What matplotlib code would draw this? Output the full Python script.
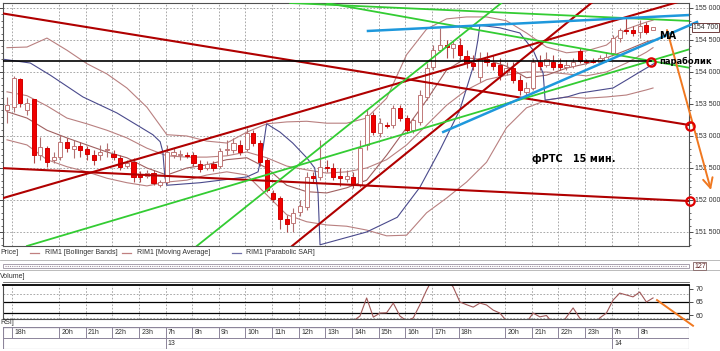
import matplotlib
matplotlib.use("Agg")
import matplotlib.pyplot as plt
from matplotlib.lines import Line2D
from matplotlib.patches import Rectangle
from matplotlib.ticker import FixedLocator, FuncFormatter

plt.rcParams['font.family'] = ['Liberation Sans Narrow', 'Liberation Sans', 'DejaVu Sans']

# RIM1 15 min candles, bar index 0..97
opens = [153410, 153450, 153890, 153410, 153580, 152700, 152810, 152630, 152670, 152910,
         152800, 152840, 152800, 152700, 152700, 152780, 152720, 152660, 152530, 152590,
         152410, 152380, 152420, 152230, 152280, 152700, 152700, 152700, 152700, 152560,
         152500, 152560, 152530, 152780, 152780, 152860, 152800, 153050, 152890, 152630,
         152110, 152030, 151700, 151640, 151810, 151890, 152380, 152360, 152520, 152500,
         152380, 152330, 152360, 152230, 152860, 153330, 153050, 153170, 153170, 153440,
         153280, 153090, 153220, 153610, 154080, 154340, 154420, 154380, 154420, 154250,
         154140, 153920, 154200, 154140, 154110, 154000, 154060, 153880, 153690, 153750,
         154160, 154110, 154160, 154130, 154080, 154090, 154330, 154170, 154170, 154160,
         154190, 154300, 154530, 154660, 154660, 154630, 154730, 154660]
highs = [153610, 153940, 153910, 153590, 153580, 152980, 152840, 152750, 153020, 152970,
         152940, 152910, 152840, 152780, 152860, 152890, 152780, 152700, 152630, 152660,
         152450, 152470, 152470, 152310, 152860, 152810, 152780, 152750, 152750, 152630,
         152610, 152610, 152810, 152940, 152970, 152940, 153130, 153090, 152940, 152660,
         152160, 152060, 151770, 151880, 152000, 152440, 152440, 152940, 152630, 152580,
         152500, 152470, 152440, 152940, 153410, 153380, 153280, 153220, 153480, 153480,
         153330, 153280, 153720, 154140, 154420, 154690, 154500, 154500, 154530, 154340,
         154270, 154310, 154310, 154270, 154220, 154160, 154160, 153950, 153840, 154220,
         154270, 154310, 154270, 154220, 154190, 154220, 154380, 154200, 154220, 154270,
         154310, 154580, 154690, 154840, 154720, 154810, 154780, 154700]
lows = [153200, 153380, 153450, 153330, 152580, 152630, 152520, 152580, 152630, 152750,
        152660, 152670, 152630, 152550, 152630, 152670, 152630, 152470, 152500, 152280,
        152280, 152340, 152230, 152200, 152250, 152660, 152630, 152660, 152530, 152440,
        152470, 152450, 152500, 152700, 152730, 152700, 152770, 152840, 152530, 152130,
        151970, 151550, 151500, 151500, 151750, 151840, 152280, 152310, 152440, 152310,
        152220, 152280, 152190, 152200, 152780, 153020, 152980, 153130, 153130, 153230,
        153050, 153050, 153170, 153560, 154030, 154310, 154220, 154220, 154190, 154060,
        154030, 153840, 154090, 154030, 153880, 153950, 153830, 153640, 153640, 153720,
        154030, 154080, 154030, 154030, 154030, 154060, 154140, 154130, 154140, 154130,
        154160, 154270, 154470, 154590, 154560, 154530, 154590, 154660]
closes = [153480, 153910, 153520, 153520, 152700, 152830, 152590, 152670, 152910, 152810,
          152840, 152780, 152720, 152630, 152750, 152800, 152670, 152520, 152580, 152360,
          152360, 152420, 152270, 152280, 152750, 152750, 152710, 152690, 152580, 152480,
          152560, 152500, 152770, 152790, 152890, 152750, 153050, 152890, 152590, 152160,
          152020, 151700, 151630, 151800, 151910, 152360, 152340, 152520, 152500, 152360,
          152340, 152380, 152230, 152810, 153330, 153060, 153200, 153160, 153440, 153280,
          153090, 153250, 153640, 154060, 154340, 154420, 154390, 154440, 154270, 154140,
          154090, 154220, 154160, 154090, 153950, 154060, 153880, 153720, 153750, 154160,
          154090, 154200, 154080, 154080, 154110, 154160, 154170, 154160, 154160, 154220,
          154230, 154530, 154660, 154640, 154610, 154720, 154630, 154700]

# indicators, read every 3 bars
ind_x = [0, 3, 6, 9, 12, 15, 18, 21, 24, 27, 30, 33, 36, 39, 42, 45, 48, 51, 54, 57,
         60, 63, 66, 69, 72, 75, 78, 81, 84, 87, 90, 93, 96, 97]
bb_upper = [154380, 154390, 154530, 154340, 154130, 153970, 153750, 153450, 153020, 153000,
            152920, 152890, 153060, 153190, 153220, 153230, 153200, 153200, 153280, 153590,
            154270, 154670, 154830, 154860, 154860, 154800, 154610, 154390, 154300, 154330,
            154420, 154670, 154780, 154810]
bb_middle = [153690, 153630, 153470, 153280, 153190, 153090, 152970, 152810, 152690, 152670,
             152670, 152690, 152750, 152660, 152530, 152470, 152420, 152440, 152500, 152630,
             152860, 153170, 153480, 153720, 153880, 153950, 154000, 154000, 153970, 153940,
             154000, 154140, 154310, 154380]
bb_lower = [152940, 152860, 152630, 152520, 152440, 152340, 152270, 152220, 152280, 152310,
            152390, 152440, 152390, 152080, 151770, 151660, 151610, 151590, 151530, 151440,
            151450, 151800, 152030, 152280, 152590, 153130, 153440, 153560, 153610, 153590,
            153610, 153640, 153720, 153750]
ma_line = [153380, 153280, 153090, 152970, 152860, 152750, 152660, 152500, 152390, 152500,
           152550, 152630, 152660, 152500, 152230, 152130, 152110, 152190, 152310, 152700,
           153130, 153560, 154030, 154220, 154190, 154090, 153910, 153950, 154060, 154130,
           154220, 154340, 154470, 154500]

sar_x = [-0.6, 3.5, 6.5, 11.4, 16.5, 20.0, 21.9, 23.0, 23.4, 23.7, 24.0, 29.0, 36.0, 37.7,
         38.4, 38.9, 39.0, 41.0, 42.9, 45.0, 46.2, 46.7, 47.0, 54.0, 58.6, 62.0, 65.0, 68.0,
         70.0, 70.7, 71.0, 74.0, 77.0, 79.0, 80.5, 80.8, 84.1, 86.0, 91.0, 93.1, 95.0, 97.3]
sar_y = [154200, 154140, 153950, 153610, 153360, 153140, 153020, 152910, 152750, 152360,
         152230, 152270, 152360, 152440, 152780, 153140, 153190, 153060, 152890, 152660,
         152500, 152110, 151300, 151500, 151730, 152200, 152780, 153410, 154080, 154500,
         154730, 154690, 154610, 154340, 153980, 153560, 153610, 153670, 153750, 153880,
         154000, 154140]

rsi_x = list(range(50, 98))
rsi_y = [56, 57, 58, 59.8, 66.5, 59.4, 60.9, 61, 64.6, 59.8, 58, 59.1, 64, 69.4, 74, 76,
         74, 70.5, 65, 64, 63.1, 64.6, 63.9, 62, 60.9, 58, 56, 56, 57.5, 60.9, 59.5, 60.0,
         57, 56, 59.4, 62.8, 59.0, 57, 56, 59.1, 60.9, 65.7, 68.3, 67.6, 66.9, 68.7, 65.0, 66.5]

hour_ticks = [0.8, 7.8, 11.8, 15.8, 19.8, 23.8, 27.8, 31.8, 35.8, 39.8, 43.8, 47.8, 51.8,
              55.8, 59.8, 63.8, 67.8, 74.8, 78.8, 82.8, 86.8, 90.8, 94.8]
hour_labels = ['18h', '20h', '21h', '22h', '23h', '7h', '8h', '9h', '10h', '11h', '12h', '13h',
               '14h', '15h', '16h', '17h', '18h', '20h', '21h', '22h', '23h', '7h', '8h']
day_ticks = [23.8, 90.8]
day_labels = ['13', '14']
price_ticks = [151500, 152000, 152500, 153000, 153500, 154000, 154500, 155000]
last_price = 154700

# hand drawn lines (x0, price0, x1, price1)
red_lines = [(-1.05, 154922, 102.4, 153172), (-1.05, 152500, 102.4, 151984),
             (-1.05, 152016, 101.8, 155125), (42.8, 151281, 88.3, 155125)]
green_lines = [(42.5, 155078, 102.6, 154797), (48.0, 155078, 102.6, 154063),
               (28.5, 151281, 74.8, 155125), (3.0, 151281, 102.6, 154359)]
blue_lines = [(54.2, 154641, 102.6, 154891), (65.5, 153063, 103.6, 154781)]
level_line = (-1.05, 96.7, 154172)
circle_x = [96.7, 102.6, 102.6]
circle_y = [154156, 153156, 151984]
arrow_main = (99.1, 154656, 105.7, 152156)
arrow_rsi = (97.6, 65.7, 103.0, 56.2)

W, H = 720, 351
def fx(x):
    return x / W
def fy(y):
    return 1 - y / H

fig = plt.figure(figsize=(7.2, 3.51), dpi=100)
fig.patch.set_facecolor('white')

grid_kw = dict(color='#9a9a9a', lw=0.6, ls=(0, (2, 2)))
frame = '#505050'
small = 5

# ---- price panel
ax = fig.add_axes([fx(3), fy(246), (689 - 3) / W, (246 - 3) / H])
ax.set_xlim(-0.6, 102.4)
ax.set_ylim(151281, 155078)
for t in hour_ticks:
    ax.axvline(t, zorder=0, **grid_kw)
for p in price_ticks:
    ax.axhline(p, zorder=0, **grid_kw)

ax.plot(ind_x, bb_upper, color='#b98080', lw=0.8, zorder=2)
ax.plot(ind_x, bb_middle, color='#b98080', lw=0.8, zorder=2)
ax.plot(ind_x, bb_lower, color='#b98080', lw=0.8, zorder=2)
ax.plot(ind_x, ma_line, color='#a06060', lw=0.8, zorder=2)
ax.plot(sar_x, sar_y, color='#4a4a8c', lw=0.8, zorder=2)

idx = list(range(len(opens)))
up = [c >= o for o, c in zip(opens, closes)]
ax.vlines(idx, lows, highs, colors=['#b07070' if u else '#b04848' for u in up], lw=0.8, zorder=3)
bottoms = [min(o, c) for o, c in zip(opens, closes)]
heights = [max(abs(c - o), 14) for o, c in zip(opens, closes)]
ax.bar(idx, heights, bottom=bottoms, width=0.62,
       color=['white' if u else '#f00000' for u in up],
       edgecolor=['#c07878' if u else '#d00000' for u in up], lw=0.7, zorder=4)

for x0, p0, x1, p1 in red_lines:
    ax.plot([x0, x1], [p0, p1], color='#b00000', lw=1.5, zorder=5)
for x0, p0, x1, p1 in green_lines:
    ax.plot([x0, x1], [p0, p1], color='#33cc33', lw=1.3, zorder=5)
ax.plot([level_line[0], level_line[1]], [level_line[2]] * 2, color='black', lw=1.2, zorder=5)
x0, p0, x1, p1 = blue_lines[0]
ax.plot([x0, x1], [p0, p1], color='#1e98dc', lw=1.8, zorder=6)
x0, p0, x1, p1 = blue_lines[1]
ax.plot([x0, x1], [p0, p1], color='#1e98dc', lw=1.8, zorder=6, clip_on=False)

ax.annotate('', xy=(arrow_main[2], arrow_main[3]), xytext=(arrow_main[0], arrow_main[1]),
            arrowprops=dict(arrowstyle='->,head_length=0.7,head_width=0.35', color='#f07820',
                            lw=1.4, shrinkA=0, shrinkB=0),
            annotation_clip=False, zorder=7)
ax.plot(circle_x, circle_y, 'o', ms=6, mfc='none', mec='#e00000', mew=1.6,
        clip_on=False, zorder=8)

ax.text(97.9, 154560, 'MA', fontsize=7, fontweight='bold', family='DejaVu Sans',
        va='center', zorder=9, clip_on=False)
ax.text(98.0, 154170, 'параболик', fontsize=6, fontweight='bold', family='DejaVu Sans',
        va='center', zorder=9, clip_on=False)
ax.text(78.8, 152640, 'фРТС   15 мин.', fontsize=7, fontweight='bold', family='DejaVu Sans',
        va='center', zorder=9)
ax.text(103.0, last_price, '154 700', fontsize=small, va='center', ha='left', clip_on=False,
        color='#303030', zorder=9,
        bbox=dict(boxstyle='square,pad=0.12', fc='white', ec='#704040', lw=0.7))

ax.yaxis.set_major_locator(FixedLocator(price_ticks))
ax.yaxis.set_minor_locator(FixedLocator(list(range(151300, 155100, 100))))
ax.yaxis.set_major_formatter(FuncFormatter(lambda v, pos: f"{int(v):,}".replace(',', ' ')))
ax.tick_params(axis='y', which='both', left=True, right=True, labelleft=False, labelright=True,
               labelsize=small, pad=1.5, colors='#303030', direction='out')
ax.tick_params(axis='y', which='major', length=3, width=0.6)
ax.tick_params(axis='y', which='minor', length=1.5, width=0.5)
ax.set_xticks([])
for s in ax.spines.values():
    s.set_color(frame)
    s.set_linewidth(0.8)

# ---- legend row, scroll bar and captions
fig.text(fx(0), fy(253), 'Price]', fontsize=small, va='center', color='#303030')
legend_items = [(30, 45, '#c08080', 'RIM1 [Bollinger Bands]'),
                (122, 137, '#c08080', 'RIM1 [Moving Average]'),
                (232, 246, '#7070a8', 'RIM1 [Parabolic SAR]')]
for lx, tx, col, name in legend_items:
    fig.add_artist(Line2D([fx(lx), fx(lx + 9)], [fy(253)] * 2, color=col, lw=0.9))
    fig.text(fx(tx), fy(253), name, fontsize=small, va='center', color='#303030')
fig.add_artist(Line2D([0, fx(720)], [fy(260)] * 2, color='#b0b0b0', lw=0.6))
fig.add_artist(Rectangle((fx(3), fy(268)), fx(686), 4 / H, fill=False, ec='#9a90a0', lw=0.6))
fig.add_artist(Line2D([fx(5), fx(687)], [fy(266)] * 2, color='#a090a0', lw=0.8, ls=(0, (1, 1))))
fig.text(fx(694), fy(266), '127', fontsize=small, va='center', color='#602020',
         bbox=dict(boxstyle='square,pad=0.1', fc='white', ec='#806060', lw=0.6))
fig.add_artist(Line2D([0, fx(720)], [fy(270)] * 2, color='#b0b0b0', lw=0.6))
fig.text(fx(0), fy(276), 'Volume]', fontsize=small, va='center', color='#303030')
fig.add_artist(Line2D([fx(3), fx(689)], [fy(282)] * 2, color='#606060', lw=0.6))
fig.text(fx(0), fy(323), 'RSI]', fontsize=small, va='center', color='#303030')

# ---- RSI panel
rx = fig.add_axes([fx(3), fy(319), (689 - 3) / W, (319 - 285) / H])
rx.set_xlim(-0.6, 102.4)
rx.set_ylim(58.7, 71.3)
for t in hour_ticks:
    rx.axvline(t, zorder=0, **grid_kw)
for lvl in (68, 59):
    rx.axhline(lvl, zorder=0, **grid_kw)
rx.axhline(65, color='black', lw=0.9, zorder=1)
rx.axhline(61, color='black', lw=0.9, zorder=1)
rx.plot(rsi_x, rsi_y, color='#a05858', lw=0.8, zorder=2)
rx.plot([arrow_rsi[0], arrow_rsi[2]], [arrow_rsi[1], arrow_rsi[3]], color='#f07820', lw=1.4,
        clip_on=False, zorder=3)
rx.set_xticks([])
rx.set_yticks([60, 65, 70])
rx.tick_params(axis='y', left=False, right=True, labelleft=False, labelright=True,
               labelsize=small, pad=1.5, length=3, width=0.6, colors='#303030')
for s in rx.spines.values():
    s.set_color(frame)
    s.set_linewidth(0.8)
rx.spines['top'].set_color('black')
rx.spines['top'].set_linewidth(1.3)

# ---- time scale
tx_ax = fig.add_axes([fx(3), fy(349), (689 - 3) / W, (349 - 327) / H])
tx_ax.set_xlim(-0.6, 102.4)
tx_ax.set_ylim(0, 2)
tx_ax.axis('off')
tx_ax.add_patch(Rectangle((-0.6, 0), 103, 2, fill=False, ec='#8c849a', lw=0.8))
tx_ax.axhline(2, color='#8c849a', lw=1.6)
tx_ax.axhline(1, color='#8c849a', lw=0.7)
tx_ax.vlines(hour_ticks, 1, 2, color='#8c849a', lw=0.7)
tx_ax.vlines(day_ticks, 0, 1, color='#8c849a', lw=0.7)
for t, lab in zip(hour_ticks, hour_labels):
    tx_ax.text(t + 0.35, 1.5, lab, fontsize=small, va='center', color='#303030')
for t, lab in zip(day_ticks, day_labels):
    tx_ax.text(t + 0.35, 0.5, lab, fontsize=small, va='center', color='#303030')

fig.savefig('out.png', dpi=100)
